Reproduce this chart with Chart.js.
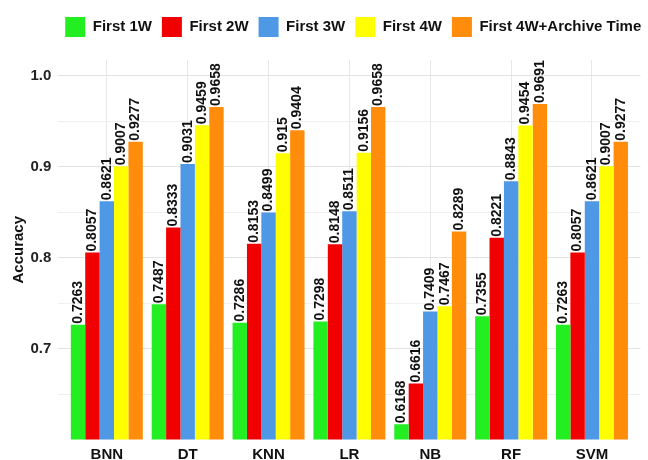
<!DOCTYPE html>
<html>
<head>
<meta charset="utf-8">
<script src="https://cdn.jsdelivr.net/npm/chart.js@4.4.1/dist/chart.umd.min.js"></script>
<style>
  body { margin: 0; background: #fff; }
  #wrap { width: 648px; height: 460px; }
</style>
</head>
<body>
<div id="wrap"><canvas id="myChart"></canvas></div>
<script>
const categories = ['BNN', 'DT', 'KNN', 'LR', 'NB', 'RF', 'SVM'];
const first1W = [0.7263, 0.7487, 0.7286, 0.7298, 0.6168, 0.7355, 0.7263];
const first2W = [0.8057, 0.8333, 0.8153, 0.8148, 0.6616, 0.8221, 0.8057];
const first3W = [0.8621, 0.9031, 0.8499, 0.8511, 0.7409, 0.8843, 0.8621];
const first4W = [0.9007, 0.9459, 0.915, 0.9156, 0.7467, 0.9454, 0.9007];
const first4WArchive = [0.9277, 0.9658, 0.9404, 0.9658, 0.8289, 0.9691, 0.9277];
const yTicks = [0.65, 0.7, 0.75, 0.8, 0.85, 0.9, 0.95, 1.0];
const yTickLabels = ['', '0.7', '', '0.8', '', '0.9', '', '1.0'];

const FONT = "'Liberation Sans', Arial, sans-serif";

(function () {
    const ctx = document.getElementById('myChart');
    const toPoints = (arr) => arr.map((v, i) => ({ x: i, y: v }));

    // value labels, written vertically above each bar
    const barLabels = {
        id: 'barLabels',
        afterDatasetsDraw(chart) {
            const c = chart.ctx;
            c.save();
            c.font = 'bold 14px ' + FONT;
            c.fillStyle = '#111';
            c.textAlign = 'left';
            c.textBaseline = 'middle';
            chart.data.datasets.forEach((ds, i) => {
                chart.getDatasetMeta(i).data.forEach((bar, j) => {
                    c.save();
                    c.translate(bar.x, bar.y - 1);
                    c.rotate(-Math.PI / 2);
                    c.fillText(String(ds.data[j].y), 0, 0);
                    c.restore();
                });
            });
            c.restore();
        }
    };

    // extra room under the legend, and centre it over the plot panel
    const legendTweak = {
        id: 'legendTweak',
        beforeInit(chart) {
            const fit = chart.legend.fit;
            chart.legend.fit = function () {
                fit.bind(chart.legend)();
                this.height += 13;
            };
        },
        afterLayout(chart) {
            chart.legend.left += 33;
            chart.legend.right += 33;
        }
    };

    new Chart(ctx, {
        type: 'bar',
        data: {
            datasets: [
                { label: 'First 1W', data: toPoints(first1W), backgroundColor: '#22ee22' },
                { label: 'First 2W', data: toPoints(first2W), backgroundColor: '#f00000' },
                { label: 'First 3W', data: toPoints(first3W), backgroundColor: '#4f98e6' },
                { label: 'First 4W', data: toPoints(first4W), backgroundColor: '#ffff00' },
                { label: 'First 4W+Archive Time', data: toPoints(first4WArchive), backgroundColor: '#ff8c0a' }
            ]
        },
        options: {
            responsive: true,
            maintainAspectRatio: false,
            animation: false,
            categoryPercentage: 0.89,
            barPercentage: 1.0,
            borderWidth: 0,
            layout: { padding: { top: 7, left: 0, right: 7.5, bottom: 0 } },
            plugins: {
                tooltip: { enabled: false },
                legend: {
                    position: 'top',
                    labels: {
                        boxWidth: 20,
                        boxHeight: 20,
                        padding: 10,
                        color: '#111',
                        font: { family: FONT, size: 15, weight: 'bold' }
                    }
                }
            },
            scales: {
                x: {
                    type: 'linear',
                    min: -0.6,
                    max: 6.6,
                    offset: false,
                    afterBuildTicks: (axis) => {
                        axis.ticks = categories.map((c, i) => ({ value: i }));
                    },
                    afterFit: (scale) => { scale.height = 20.5; },
                    ticks: {
                        autoSkip: false,
                        maxRotation: 0,
                        padding: 6,
                        color: '#111',
                        font: { family: FONT, size: 15, weight: 'bold' },
                        callback: (v) => categories[v]
                    },
                    grid: { color: '#e8e8e8', drawTicks: false, offset: false },
                    border: { display: false }
                },
                y: {
                    min: 0.6,
                    max: 1.0176,
                    afterBuildTicks: (axis) => {
                        axis.ticks = yTicks.map(v => ({ value: v }));
                    },
                    afterFit: (scale) => { scale.width = 58.3; },
                    ticks: {
                        padding: 7,
                        color: '#222',
                        font: { family: FONT, size: 15, weight: 'bold' },
                        callback: (v, i) => yTickLabels[i]
                    },
                    grid: {
                        drawTicks: false,
                        color: (c) => (yTickLabels[c.index] ? '#e3e3e3' : '#efefef')
                    },
                    border: { display: false },
                    title: {
                        display: true,
                        text: 'Accuracy',
                        color: '#111',
                        padding: { top: 10, bottom: 0 },
                        font: { family: FONT, size: 15, weight: 'bold' }
                    }
                }
            }
        },
        plugins: [barLabels, legendTweak]
    });
})();
</script>
</body>
</html>
